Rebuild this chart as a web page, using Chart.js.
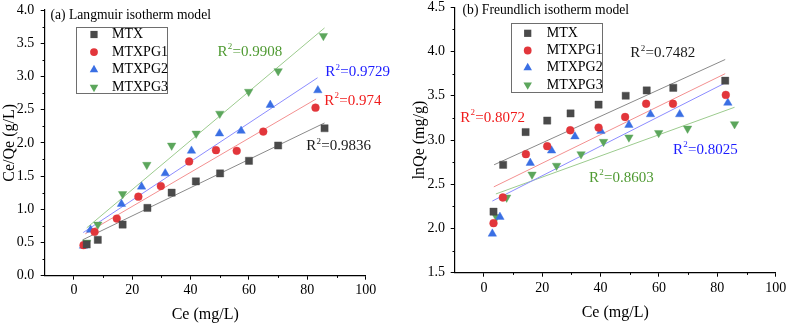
<!DOCTYPE html>
<html><head><meta charset="utf-8">
<script src="https://cdn.jsdelivr.net/npm/chart.js@4/dist/chart.umd.min.js"></script>
<style>
html,body{margin:0;padding:0;background:#fff;width:787px;height:325px;overflow:hidden}
#wa{position:absolute;left:0;top:0;width:390px;height:325px}
#wb{position:absolute;left:390px;top:0;width:397px;height:325px}
</style></head><body>
<div id="wa"><canvas id="ca" width="390" height="325"></canvas></div>
<div id="wb"><canvas id="cb" width="397" height="325"></canvas></div>
<script>
// ---------- data ----------
const seriesNames = ['MTX', 'MTXPG1', 'MTXPG2', 'MTXPG3'];

// (a) Langmuir: Ce (mg/L) vs Ce/Qe (g/L)
const ceA_MTX = [4.4, 8.2, 16.7, 25.2, 33.5, 41.8, 50.1, 60.0, 70.0, 85.9];
const yA_MTX  = [0.47, 0.54, 0.77, 1.02, 1.25, 1.42, 1.54, 1.73, 1.96, 2.22];
const ceA_PG1 = [3.3, 7.1, 14.7, 22.1, 29.8, 39.5, 48.7, 55.8, 64.9, 82.8];
const yA_PG1  = [0.46, 0.66, 0.86, 1.19, 1.35, 1.72, 1.89, 1.88, 2.17, 2.53];
const ceA_PG2 = [3.3, 5.7, 16.3, 23.2, 31.3, 40.3, 49.9, 57.3, 67.3, 83.6];
const yA_PG2  = [0.45, 0.69, 1.08, 1.34, 1.54, 1.88, 2.14, 2.18, 2.57, 2.79];
const ceA_PG3 = [4.4, 8.2, 16.7, 25.0, 33.5, 41.9, 50.0, 59.9, 70.0, 85.5];
const yA_PG3  = [0.50, 0.77, 1.23, 1.67, 1.96, 2.14, 2.44, 2.77, 3.08, 3.61];
// fitted lines (start, end)
const fitA_MTX = {x: [3.0, 85.9], y: [0.54, 2.30]};
const fitA_PG1 = {x: [3.9, 83.0], y: [0.63, 2.66]};
const fitA_PG2 = {x: [3.2, 83.5], y: [0.65, 2.98]};
const fitA_PG3 = {x: [4.4, 85.9], y: [0.72, 3.73]};
const r2A = ['0.9836', '0.974', '0.9729', '0.9908'];

// (b) Freundlich: Ce (mg/L) vs lnQe (mg/g)
const ceB_MTX = [3.3, 6.6, 14.3, 21.7, 29.7, 39.3, 48.6, 55.8, 64.9, 82.7];
const lnB_MTX = [2.19, 2.72, 3.09, 3.22, 3.30, 3.40, 3.50, 3.56, 3.59, 3.67];
const ceB_PG1 = [3.3, 6.5, 14.4, 21.7, 29.6, 39.3, 48.4, 55.6, 64.8, 82.9];
const lnB_PG1 = [2.06, 2.35, 2.84, 2.93, 3.11, 3.14, 3.26, 3.41, 3.41, 3.51];
const ceB_PG2 = [2.9, 5.5, 15.9, 23.2, 31.2, 40.1, 49.7, 57.1, 67.1, 83.6];
const lnB_PG2 = [1.94, 2.13, 2.74, 2.88, 3.04, 3.10, 3.17, 3.29, 3.29, 3.42];
const ceB_PG3 = [4.3, 7.8, 16.5, 24.9, 33.3, 41.0, 49.7, 59.9, 69.8, 85.9];
const lnB_PG3 = [2.13, 2.35, 2.61, 2.71, 2.84, 2.98, 3.03, 3.08, 3.13, 3.18];
const fitB_MTX = {x: [3.5, 82.7], y: [2.72, 3.91]};
const fitB_PG1 = {x: [3.4, 82.7], y: [2.47, 3.75]};
const fitB_PG2 = {x: [2.9, 83.0], y: [2.31, 3.65]};
const fitB_PG3 = {x: [4.1, 85.9], y: [2.39, 3.37]};
const r2B = ['0.7482', '0.8072', '0.8025', '0.8603'];

// axis ticks
const xTicks = [0, 20, 40, 60, 80, 100];
const xMinor = [10, 30, 50, 70, 90];
const yTicksA = [0.0, 0.5, 1.0, 1.5, 2.0, 2.5, 3.0, 3.5, 4.0];
const yMinorA = [0.25, 0.75, 1.25, 1.75, 2.25, 2.75, 3.25, 3.75];
const yTicksB = [1.5, 2.0, 2.5, 3.0, 3.5, 4.0, 4.5];
const yMinorB = [1.75, 2.25, 2.75, 3.25, 3.75, 4.25];

// ---------- styles ----------
const FONT = '"Liberation Serif","Times New Roman",serif';
const markerColors = ['#4a4a4a', '#e2363b', '#3a6fe4', '#5ca65c'];
const lineColors   = ['#8a8a8a', '#f39090', '#8c8cff', '#9ccb8e'];
const labelColors  = ['#1a1a1a', '#f01c1c', '#1c1cff', '#4f9a32'];
const pointStyles  = ['rect', 'circle', 'triangle', 'triangle'];
const pointRots    = [0, 0, 0, 180];
const pointRadii   = [5.1, 3.9, 4.9, 4.9];

function drawMarker(ctx, i, x, y) {
  const r = pointRadii[i];
  ctx.save();
  ctx.fillStyle = markerColors[i];
  ctx.beginPath();
  if (pointStyles[i] === 'rect') {
    const s = r * Math.SQRT1_2;
    ctx.rect(x - s, y - s, 2 * s, 2 * s);
  } else if (pointStyles[i] === 'circle') {
    ctx.arc(x, y, r, 0, Math.PI * 2);
  } else {
    let rad = pointRots[i] * Math.PI / 180;
    for (let k = 0; k < 3; k++) {
      const px = x + Math.sin(rad) * r, py = y - Math.cos(rad) * r;
      if (k === 0) ctx.moveTo(px, py); else ctx.lineTo(px, py);
      rad += 2 * Math.PI / 3;
    }
    ctx.closePath();
  }
  ctx.fill();
  ctx.restore();
}

function drawR2(ctx, x, y, val, color) {
  ctx.save();
  ctx.fillStyle = color;
  ctx.textBaseline = 'middle';
  ctx.textAlign = 'left';
  ctx.font = '15px ' + FONT;
  ctx.fillText('R', x, y);
  let w = ctx.measureText('R').width;
  ctx.font = '9px ' + FONT;
  ctx.fillText('2', x + w + 0.3, y - 5);
  w += ctx.measureText('2').width + 0.6;
  ctx.font = '15px ' + FONT;
  ctx.fillText('=' + val, x + w, y);
  ctx.restore();
}

function buildChart(canvasId, p) {
  const datasets = [];
  for (let i = 0; i < 4; i++) {
    datasets.push({
      label: seriesNames[i],
      data: p.xs[i].map((x, k) => ({x: x, y: p.ys[i][k]})),
      pointStyle: pointStyles[i], rotation: pointRots[i], pointRadius: pointRadii[i],
      pointHoverRadius: pointRadii[i],
      backgroundColor: markerColors[i], borderColor: markerColors[i], borderWidth: 0.4,
      showLine: false, order: 0
    });
  }
  for (let i = 0; i < 4; i++) {
    datasets.push({
      label: seriesNames[i] + ' fit',
      data: p.fits[i].x.map((x, k) => ({x: x, y: p.fits[i].y[k]})),
      showLine: true, pointRadius: 0, borderColor: lineColors[i], borderWidth: 1,
      fill: false, order: 1
    });
  }
  const deco = {
    id: 'deco',
    afterDraw(chart) {
      const ctx = chart.ctx, xs = chart.scales.x, ys = chart.scales.y;
      ctx.save();
      // minor ticks
      ctx.strokeStyle = '#000'; ctx.lineWidth = 1;
      ctx.beginPath();
      p.xMinor.forEach(v => {
        const px = Math.round(xs.getPixelForValue(v)) + 0.5;
        ctx.moveTo(px, xs.top); ctx.lineTo(px, xs.top + 2.2);
      });
      p.yMinor.forEach(v => {
        const py = Math.round(ys.getPixelForValue(v)) + 0.5;
        ctx.moveTo(ys.right, py); ctx.lineTo(ys.right - 2.2, py);
      });
      ctx.stroke();
      // panel title
      ctx.fillStyle = '#000'; ctx.textBaseline = 'middle'; ctx.textAlign = 'left';
      ctx.font = '13.6px ' + FONT;
      ctx.fillText(p.title, xs.getPixelForValue(p.titleAt[0]), ys.getPixelForValue(p.titleAt[1]));
      // R2 labels
      for (let i = 0; i < 4; i++) {
        drawR2(ctx, xs.getPixelForValue(p.r2At[i][0]), ys.getPixelForValue(p.r2At[i][1]), p.r2[i], labelColors[i]);
      }
      // legend
      const L = p.legend;
      ctx.strokeStyle = '#6e6e6e'; ctx.lineWidth = 1;
      ctx.strokeRect(L.x + 0.5, L.y + 0.5, L.w, L.h);
      ctx.font = '14px ' + FONT; ctx.fillStyle = '#000';
      for (let i = 0; i < 4; i++) {
        const yy = L.y + L.first + i * L.step;
        drawMarker(ctx, i, L.x + L.mx, yy);
        ctx.fillStyle = '#000';
        ctx.fillText(seriesNames[i], L.x + L.tx, yy);
      }
      ctx.restore();
    }
  };
  return new Chart(document.getElementById(canvasId), {
    type: 'scatter',
    data: {datasets: datasets},
    options: {
      responsive: false, animation: false, devicePixelRatio: 1,
      layout: {padding: p.pad},
      plugins: {legend: {display: false}, tooltip: {enabled: false}},
      scales: {
        x: {
          type: 'linear', min: -10, max: 100,
          afterBuildTicks: s => { s.ticks = xTicks.map(v => ({value: v})); },
          afterFit: s => { s.height = p.xH; s.paddingLeft = 0; s.paddingRight = 0; },
          ticks: {font: {family: FONT, size: 14}, color: '#000', padding: p.xTickPad,
                  maxRotation: 0, autoSkip: false, callback: v => String(v)},
          grid: {drawOnChartArea: false, drawTicks: true, tickLength: 4, color: '#000', lineWidth: 1},
          border: {display: true, color: '#000', width: 1.2},
          title: {display: true, text: 'Ce (mg/L)', color: '#000',
                  font: {family: FONT, size: 16, lineHeight: 1}, padding: {top: 0, bottom: p.xTitlePad}}
        },
        y: {
          type: 'linear', min: p.yMin, max: p.yMax,
          afterBuildTicks: s => { s.ticks = p.yTicks.map(v => ({value: v})); },
          afterFit: s => { s.width = p.yW; s.paddingTop = 0; s.paddingBottom = 0; },
          ticks: {font: {family: FONT, size: 14}, color: '#000', padding: p.yTickPad,
                  autoSkip: false, callback: v => Number(v).toFixed(1)},
          grid: {drawOnChartArea: false, drawTicks: true, tickLength: 4, color: '#000', lineWidth: 1},
          border: {display: true, color: '#000', width: 1.2},
          title: {display: true, text: p.yTitle, color: '#000',
                  font: {family: FONT, size: 16, lineHeight: 1}, padding: {top: p.yTitlePad, bottom: 0}}
        }
      }
    },
    plugins: [deco]
  });
}

buildChart('ca', {
  xs: [ceA_MTX, ceA_PG1, ceA_PG2, ceA_PG3],
  ys: [yA_MTX, yA_PG1, yA_PG2, yA_PG3],
  fits: [fitA_MTX, fitA_PG1, fitA_PG2, fitA_PG3],
  r2: r2A,
  r2At: [[79.6, 1.95], [85.8, 2.63], [86.1, 3.06], [49.2, 3.37]],
  title: '(a) Langmuir isotherm model', titleAt: [-8.0, 3.925],
  yMin: 0, yMax: 4, yTicks: yTicksA, yMinor: yMinorA, xMinor: xMinor,
  yTitle: 'Ce/Qe (g/L)',
  pad: {left: 0, right: 24.3, top: 10, bottom: 0},
  yW: 44.7, xH: 49.3, xTickPad: 2, yTickPad: 6.5, xTitlePad: 2, yTitlePad: 1.5,
  legend: {x: 76, y: 27, w: 91, h: 66, first: 7.5, step: 17.6, mx: 18, tx: 36}
});

buildChart('cb', {
  xs: [ceB_MTX, ceB_PG1, ceB_PG2, ceB_PG3],
  ys: [lnB_MTX, lnB_PG1, lnB_PG2, lnB_PG3],
  fits: [fitB_MTX, fitB_PG1, fitB_PG2, fitB_PG3],
  r2: r2B,
  r2At: [[50.2, 3.98], [-8.1, 3.25], [64.8, 2.89], [36.0, 2.57]],
  title: '(b) Freundlich isotherm model', titleAt: [-7.3, 4.47],
  yMin: 1.5, yMax: 4.5, yTicks: yTicksB, yMinor: yMinorB, xMinor: xMinor,
  yTitle: 'lnQe (mg/g)',
  pad: {left: 0, right: 11.3, top: 7.3, bottom: 0},
  yW: 64.7, xH: 52.3, xTickPad: 3, yTickPad: 5.7, xTitlePad: 4.3, yTitlePad: 22,
  legend: {x: 121, y: 23, w: 91, h: 69, first: 10.3, step: 17.2, mx: 16.7, tx: 35.7}
});
</script>
</body></html>
